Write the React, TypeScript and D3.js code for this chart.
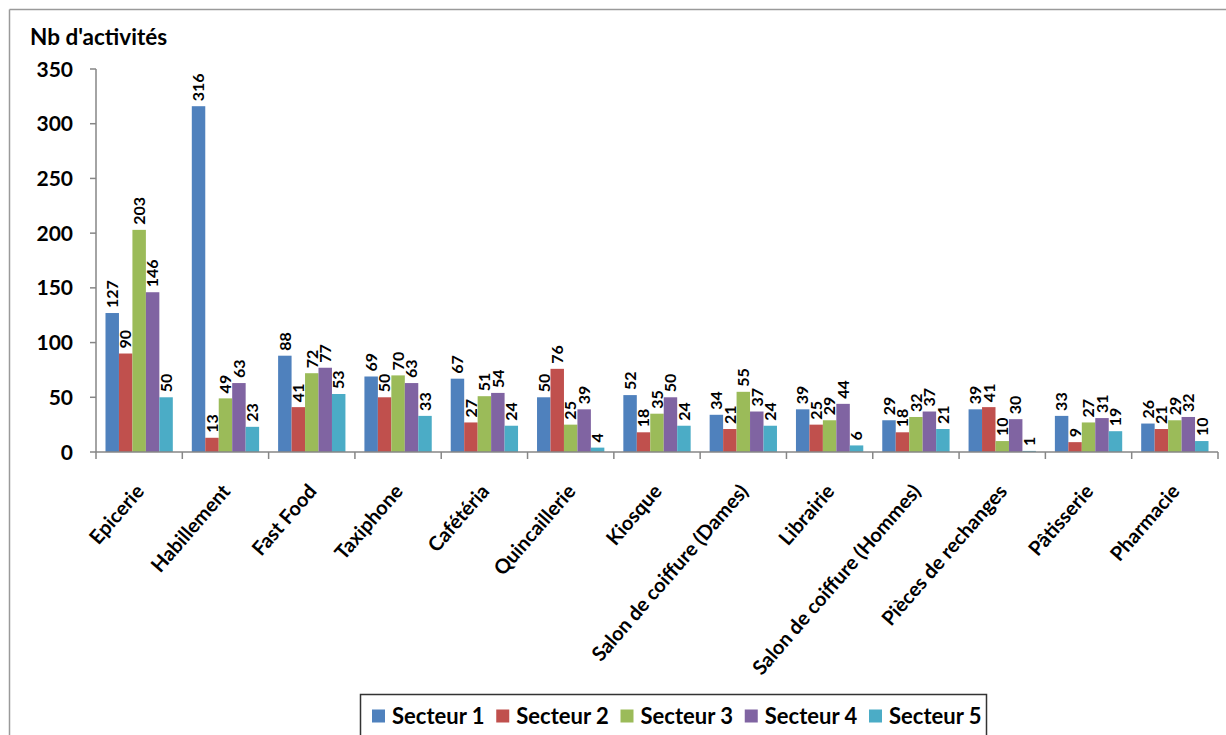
import React from "react";
import * as d3 from "d3";

const categories = ["Epicerie", "Habillement", "Fast Food", "Taxiphone", "Cafétéria", "Quincaillerie", "Kiosque", "Salon de coiffure (Dames)", "Librairie", "Salon de coiffure (Hommes)", "Pièces de rechanges", "Pâtisserie", "Pharmacie"];
const seriesNames = ["Secteur 1", "Secteur 2", "Secteur 3", "Secteur 4", "Secteur 5"];
const secteur1 = [127, 316, 88, 69, 67, 50, 52, 34, 39, 29, 39, 33, 26];
const secteur2 = [90, 13, 41, 50, 27, 76, 18, 21, 25, 18, 41, 9, 21];
const secteur3 = [203, 49, 72, 70, 51, 25, 35, 55, 29, 32, 10, 27, 29];
const secteur4 = [146, 63, 77, 63, 54, 39, 50, 37, 44, 37, 30, 31, 32];
const secteur5 = [50, 23, 53, 33, 24, 4, 24, 24, 6, 21, 1, 19, 10];
const yTicks = [0, 50, 100, 150, 200, 250, 300, 350];
const colors = ["#4F81BD", "#C0504D", "#9BBB59", "#8064A2", "#4BACC6"];

const series = [secteur1, secteur2, secteur3, secteur4, secteur5];
const FONT = "Lato, 'Open Sans', sans-serif";

export default function App() {
  const W = 1226, H = 735;
  const left = 96, right = 1218, top = 69, bottom = 452;
  const x = d3.scaleBand<string>().domain(categories).range([left, right]).paddingInner(0.22).paddingOuter(0.11);
  const x0 = d3.scaleBand<string>().domain(categories).range([left, right]);
  const xs = d3.scaleBand<string>().domain(seriesNames).range([0, x.bandwidth()]);
  const y = d3.scaleLinear().domain([0, 350]).range([bottom, top]);

  const legendX = 360, legendY = 694;
  const itemW = 124.25;

  return (
    <svg width={W} height={H} style={{ position: "absolute", left: 0, top: 0, display: "block", background: "#fff" }} fontFamily={FONT}>
      <line x1={9.5} x2={W} y1={9.5} y2={9.5} stroke="#9a9a9a" strokeWidth={1.5} />
      <line x1={9.5} x2={9.5} y1={9.5} y2={H} stroke="#9a9a9a" strokeWidth={1.5} />
      <text x={30} y={45} fontSize={22.5} fontWeight={700} fill="#000">Nb d'activités</text>

      {/* y axis */}
      <line x1={left} x2={left} y1={top} y2={bottom} stroke="#868686" strokeWidth={1.5} />
      {yTicks.map((t) => (
        <g key={t}>
          <line x1={left - 6} x2={left} y1={y(t)} y2={y(t)} stroke="#868686" strokeWidth={1.5} />
          <text x={73} y={y(t)} dy="0.36em" textAnchor="end" fontSize={21} fontWeight={700} fill="#000">{t}</text>
        </g>
      ))}

      {/* bars */}
      {categories.map((c, i) => (
        <g key={c}>
          {series.map((s, j) => {
            const bx = (x(c) as number) + (xs(seriesNames[j]) as number);
            const bw = xs.bandwidth();
            return (
              <g key={j}>
                <rect x={bx} y={y(s[i])} width={bw} height={bottom - y(s[i])} fill={colors[j]} />
                <text transform={`translate(${bx + bw / 2},${y(s[i]) - 5}) rotate(-90)`} dy="0.36em" fontSize={16} fontWeight={700} fill="#000">{s[i]}</text>
              </g>
            );
          })}
        </g>
      ))}

      {/* x axis */}
      <line x1={left} x2={right} y1={bottom} y2={bottom} stroke="#868686" strokeWidth={1.5} />
      {categories.map((c) => (
        <line key={c} x1={x0(c) as number} x2={x0(c) as number} y1={bottom} y2={bottom + 7} stroke="#868686" strokeWidth={1.5} />
      ))}
      <line x1={right} x2={right} y1={bottom} y2={bottom + 7} stroke="#868686" strokeWidth={1.5} />
      {categories.map((c) => {
        const cx = (x0(c) as number) + x0.bandwidth() / 2;
        return (
          <text key={c} transform={`translate(${cx + 6},${bottom + 40}) rotate(-49)`} textAnchor="end" fontSize={20} fontWeight={700} fill="#000">{c}</text>
        );
      })}

      {/* legend */}
      <rect x={legendX + 0.5} y={legendY + 0.5} width={626} height={60} fill="#fff" stroke="#333" strokeWidth={1.5} />
      {seriesNames.map((n, j) => (
        <g key={n} transform={`translate(${legendX + 12 + j * itemW},${legendY + 22})`}>
          <rect x={0} y={-6.5} width={13} height={13} fill={colors[j]} />
          <text x={20} y={0} dy="0.36em" fontSize={22} fontWeight={700} fill="#000">{n}</text>
        </g>
      ))}
    </svg>
  );
}
